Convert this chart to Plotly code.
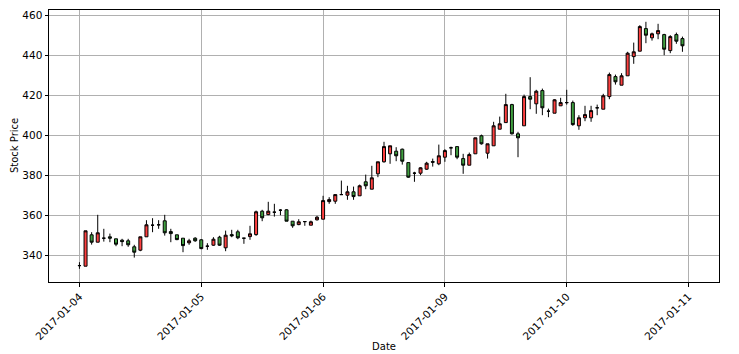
import plotly.graph_objects as go

dates = ["2017-01-04", "2017-01-05", "2017-01-06", "2017-01-09", "2017-01-10", "2017-01-11"]
tick_pos = [0, 20, 40, 60, 80, 100]

opens = [334.8, 334.5, 350.2, 346.5, 348.5, 349.2, 348.2, 347.5, 347.2, 344.2,
         342.5, 349.2, 355.0, 355.2, 357.2, 351.8, 350.2, 348.5, 346.2, 348.5,
         347.7, 344.5, 345.0, 349.0, 343.7, 350.3, 351.7, 348.5, 349.3, 350.3,
         362.0, 360.3, 361.5, 362.5, 362.7, 357.0, 355.3, 356.8, 355.0, 357.7,
         358.0, 366.8, 367.0, 370.3, 370.0, 371.7, 369.7, 376.7, 373.0, 380.7,
         386.7, 390.7, 392.0, 393.0, 386.3, 381.0, 381.0, 383.0, 386.8, 385.7,
         389.0, 393.7, 394.3, 388.3, 385.0, 390.7, 399.7, 391.0, 394.7, 403.0,
         406.3, 415.3, 400.7, 404.7, 419.3, 415.7, 422.3, 412.0, 411.0, 414.7,
         416.3, 416.3, 404.7, 408.7, 408.7, 413.7, 413.0, 419.3, 429.3, 425.0,
         429.7, 439.3, 442.0, 453.3, 448.7, 450.7, 450.3, 442.3, 450.3, 448.3]
highs = [336.5, 352.2, 351.5, 360.2, 353.2, 350.8, 348.2, 348.2, 348.2, 345.2,
         349.2, 357.5, 358.5, 357.5, 360.2, 353.2, 350.2, 348.5, 348.2, 349.0,
         348.0, 346.0, 349.0, 349.7, 352.3, 352.7, 352.7, 348.5, 354.7, 362.3,
         362.7, 366.7, 365.7, 363.0, 363.0, 357.0, 358.0, 356.8, 357.3, 359.7,
         369.7, 369.0, 370.3, 377.3, 374.7, 374.3, 375.3, 380.3, 384.7, 386.7,
         396.7, 394.7, 394.0, 393.3, 386.3, 381.7, 384.0, 386.7, 388.3, 395.3,
         393.0, 394.3, 394.3, 390.7, 391.3, 398.7, 400.3, 395.7, 406.7, 409.3,
         420.7, 415.7, 401.7, 420.3, 429.0, 422.7, 423.3, 413.3, 418.0, 418.7,
         422.7, 417.3, 410.0, 414.7, 414.7, 415.3, 420.7, 431.3, 430.3, 431.0,
         441.7, 446.3, 455.0, 456.7, 451.3, 455.7, 450.7, 450.0, 451.3, 449.3]
lows = [333.2, 334.5, 345.3, 346.5, 346.8, 346.5, 344.5, 344.5, 344.2, 338.8,
        342.0, 349.2, 351.5, 353.2, 349.8, 346.5, 347.5, 341.5, 345.2, 346.7,
        343.0, 342.7, 344.7, 344.7, 342.0, 349.0, 348.0, 345.7, 347.7, 349.7,
        357.0, 360.0, 359.3, 360.0, 357.0, 353.7, 355.0, 354.7, 355.0, 357.3,
        358.0, 365.7, 365.7, 370.3, 367.7, 367.7, 369.7, 373.0, 373.0, 379.0,
        386.3, 385.7, 387.0, 385.3, 378.7, 376.7, 380.0, 382.7, 384.3, 385.0,
        386.7, 390.0, 388.0, 380.7, 385.0, 390.7, 395.3, 388.3, 394.7, 403.0,
        406.3, 400.3, 389.0, 404.7, 413.0, 410.7, 410.0, 409.0, 411.0, 414.7,
        415.3, 404.7, 402.7, 407.0, 406.7, 410.0, 413.0, 418.0, 425.3, 425.0,
        429.7, 435.7, 442.0, 446.0, 447.3, 448.0, 440.0, 441.0, 445.7, 441.7]
closes = [334.8, 352.2, 346.5, 351.2, 348.5, 348.5, 345.5, 346.8, 345.2, 341.5,
          349.2, 355.2, 355.0, 355.2, 351.2, 350.8, 347.8, 344.8, 347.2, 347.2,
          343.3, 344.5, 348.0, 345.0, 350.0, 349.7, 348.7, 348.5, 350.7, 361.7,
          358.7, 362.0, 361.5, 362.5, 357.0, 354.7, 356.7, 356.8, 356.7, 359.0,
          367.3, 367.8, 370.3, 370.3, 371.7, 369.3, 374.7, 374.7, 378.7, 386.7,
          394.3, 394.7, 389.7, 387.0, 379.0, 381.0, 383.7, 386.0, 386.5, 389.7,
          392.3, 393.7, 389.0, 385.0, 390.3, 398.7, 395.7, 395.7, 404.7, 405.7,
          415.3, 400.7, 398.7, 419.3, 418.0, 422.0, 413.7, 412.0, 417.7, 416.3,
          416.3, 405.3, 408.7, 410.3, 412.3, 413.7, 419.7, 430.3, 426.7, 429.7,
          441.0, 441.7, 454.3, 450.0, 450.7, 452.3, 443.0, 449.3, 447.0, 444.7]

idx = list(range(len(opens)))

fig = go.Figure(go.Candlestick(
    x=idx, open=opens, high=highs, low=lows, close=closes,
    increasing=dict(fillcolor="#ff4040", line=dict(color="black", width=1)),
    decreasing=dict(fillcolor="#40a040", line=dict(color="black", width=1)),
    whiskerwidth=0, showlegend=False,
))

axis_common = dict(
    showgrid=True, gridcolor="#b0b0b0", gridwidth=0.8,
    showline=True, linecolor="black", linewidth=1, mirror=True,
    ticks="outside", ticklen=3.5, tickcolor="black", zeroline=False,
    automargin=False,
    tickfont=dict(family="DejaVu Sans", size=10.5, color="black"),
)

fig.update_layout(
    width=739, height=354,
    margin=dict(l=49, r=19.5, t=10, b=72),
    paper_bgcolor="white", plot_bgcolor="white",
    font=dict(family="DejaVu Sans", size=10, color="black"),
    xaxis=dict(range=[-5, 105], tickvals=tick_pos, ticktext=dates, tickangle=-45,
               rangeslider=dict(visible=False),
               title=dict(text="Date", standoff=1, font=dict(size=10)), **axis_common),
    yaxis=dict(range=[326.6, 462.6], tickvals=[340, 360, 380, 400, 420, 440, 460],
               **axis_common),
    annotations=[dict(text="Stock Price", textangle=-90, xref="paper", yref="paper",
                      x=(14 - 49) / 670.5, y=0.5, xanchor="center", yanchor="middle",
                      showarrow=False, font=dict(family="DejaVu Sans", size=10, color="black"))],
)

fig.write_html("out.html")
